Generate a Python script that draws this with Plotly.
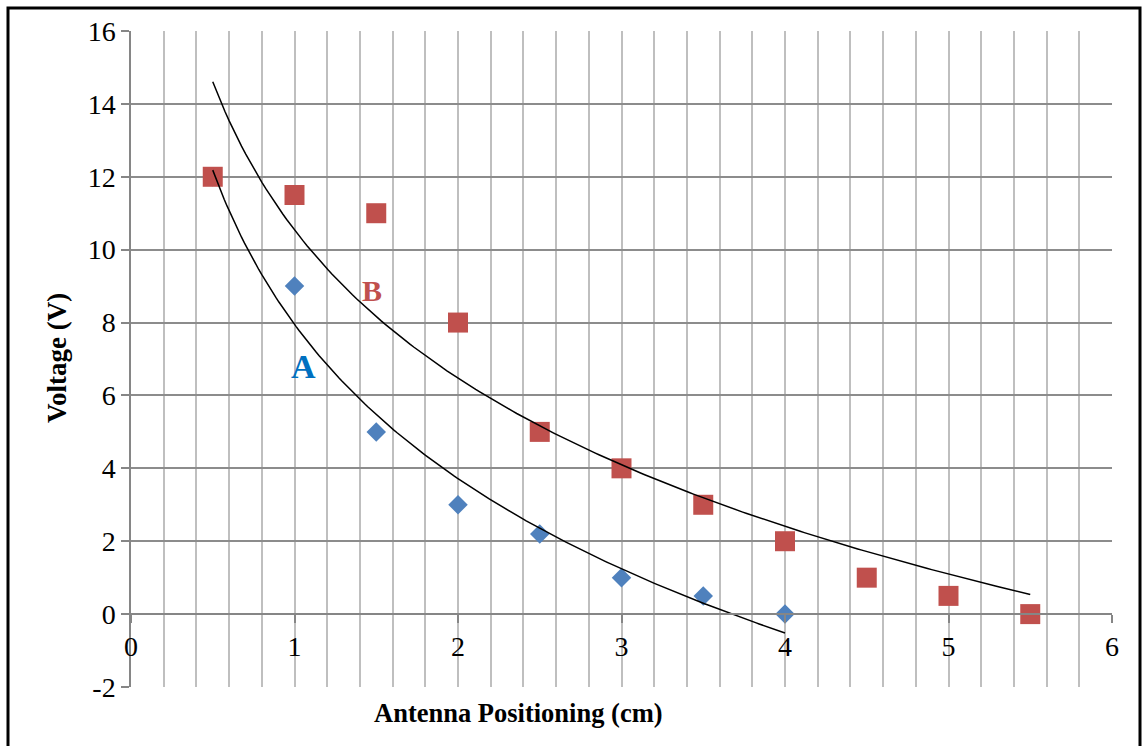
import numpy as np
import plotly.graph_objects as go

# Data
x_a = [0.5, 1, 1.5, 2, 2.5, 3, 3.5, 4]
y_a = [12, 9, 5, 3, 2.2, 1, 0.5, 0]
x_b = [0.5, 1, 1.5, 2, 2.5, 3, 3.5, 4, 4.5, 5, 5.5]
y_b = [12, 11.5, 11, 8, 5, 4, 3, 2, 1, 0.5, 0]
x_ticks = [0, 1, 2, 3, 4, 5, 6]
y_ticks = [-2, 0, 2, 4, 6, 8, 10, 12, 14, 16]

BLUE = "#4F81BD"
RED = "#C0504D"
FONT = "Liberation Serif"

def log_trend(xs, ys):
    k, c = np.polyfit(np.log(xs), ys, 1)
    xx = np.linspace(min(xs), max(xs), 200)
    return xx, k * np.log(xx) + c

ta_x, ta_y = log_trend(x_a, y_a)
tb_x, tb_y = log_trend(x_b, y_b)

fig = go.Figure()
fig.add_trace(go.Scatter(x=x_a, y=y_a, mode="markers",
                         marker=dict(symbol="diamond", size=15, color=BLUE), showlegend=False))
fig.add_trace(go.Scatter(x=x_b, y=y_b, mode="markers",
                         marker=dict(symbol="square", size=20, color=RED), showlegend=False))
fig.add_trace(go.Scatter(x=ta_x, y=ta_y, mode="lines",
                         line=dict(color="black", width=1.5), showlegend=False))
fig.add_trace(go.Scatter(x=tb_x, y=tb_y, mode="lines",
                         line=dict(color="black", width=1.5), showlegend=False))

fig.update_layout(
    width=1144, height=746,
    margin=dict(l=131, r=32, t=31, b=59),
    paper_bgcolor="white", plot_bgcolor="white",
    font=dict(family=FONT, color="black"),
)
fig.update_xaxes(range=[0, 6], tickmode="array", tickvals=x_ticks, ticktext=[str(v) for v in x_ticks],
                 anchor="free", position=2 / 18,
                 showline=True, linecolor="#868686", linewidth=1.5,
                 ticks="outside", ticklen=8, tickcolor="#868686", tickwidth=1.5,
                 tickfont_family="Times New Roman, Liberation Serif, serif",
                 tickfont_size=28, tickfont_color="black",
                 showgrid=True, gridcolor="#BFBFBF", gridwidth=1.5,
                 minor=dict(dtick=0.2, showgrid=True, gridcolor="#BFBFBF", gridwidth=1.5),
                 zeroline=False, fixedrange=True)
fig.update_yaxes(range=[-2, 16], tickmode="array", tickvals=y_ticks, ticktext=[str(v) for v in y_ticks],
                 showline=True, linecolor="#868686", linewidth=1.5,
                 ticks="outside", ticklen=8, tickcolor="#868686", tickwidth=1.5,
                 tickfont_family="Times New Roman, Liberation Serif, serif",
                 tickfont_size=28, tickfont_color="black",
                 showgrid=True, gridcolor="#8C8C8C", gridwidth=1.5,
                 zeroline=False, fixedrange=True)

fig.update_layout(
    annotations=[
        dict(x=1.052, y=6.79, xref="x", yref="y", text="<b>A</b>", showarrow=False,
             font=dict(size=34, family=FONT, color="#0070C0")),
        dict(x=1.472, y=8.89, xref="x", yref="y", text="<b>B</b>", showarrow=False,
             font=dict(size=30, family=FONT, color=RED)),
        dict(x=0.3955, y=-0.0396, xref="paper", yref="paper", text="<b>Antenna Positioning (cm)</b>",
             xanchor="center", yanchor="middle",
             showarrow=False, font=dict(size=26.5, family=FONT, color="black")),
        dict(x=-0.0754, y=0.5015, xref="paper", yref="paper", text="<b>Voltage (V)</b>",
             xanchor="center", yanchor="middle",
             textangle=-90, showarrow=False, font=dict(size=27, family=FONT, color="black")),
    ],
    shapes=[
        dict(type="rect", xref="paper", yref="paper",
             x0=(8 - 131) / 981, x1=(1140 - 131) / 981,
             y0=(687 - 760) / 656, y1=(687 - 8) / 656,
             line=dict(color="black", width=3), fillcolor="rgba(0,0,0,0)", layer="above"),
    ],
)

fig.write_html("out.html")
